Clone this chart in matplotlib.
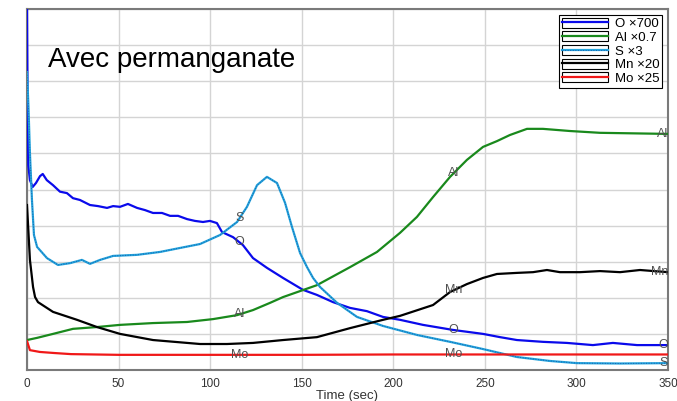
import numpy as np
import matplotlib
matplotlib.use('Agg')
import matplotlib.pyplot as plt
from matplotlib.lines import Line2D
from matplotlib.patches import Patch
from matplotlib.legend_handler import HandlerTuple

plt.rcParams['font.family'] = ['Liberation Sans', 'DejaVu Sans']

# valeurs (unités arbitraires, 10 divisions)
t_O = [0, 0.3, 0.7, 1.6, 3.1, 4.9, 7.1, 8.6, 10.8, 14.2, 18.0, 21.8, 25.1, 28.9, 34.4, 38.8,
       43.7, 47.0, 50.8, 55.1, 60.1, 64.4, 68.8, 73.7, 78.1, 82.5, 87.4, 91.7, 96.1, 99.9,
       103.7, 106.5, 112.5, 117.9, 123.4, 131.0, 139.8, 150.7, 158.3, 167.1, 176.4, 185.6,
       194.4, 203.7, 216.2, 232.6, 249.0, 258.3, 267.5, 281.7, 294.8, 309.0, 319.9, 333.1, 350]
v_O = [10.3, 7.48, 5.68, 5.26, 5.07, 5.18, 5.37, 5.43, 5.26, 5.12, 4.94, 4.90, 4.76, 4.71, 4.57, 4.54,
       4.49, 4.54, 4.52, 4.60, 4.49, 4.43, 4.35, 4.35, 4.27, 4.27, 4.18, 4.13, 4.10, 4.13,
       4.07, 3.82, 3.68, 3.46, 3.10, 2.83, 2.55, 2.22, 2.08, 1.88, 1.72, 1.63,
       1.47, 1.39, 1.25, 1.11, 1.00, 0.91, 0.83, 0.78, 0.75, 0.69, 0.75, 0.69, 0.69]

t_Al = [0, 5.5, 14.2, 25.1, 38.2, 50.8, 68.8, 87.4, 101.6, 114.7, 123.4, 132.7, 139.8, 158.3,
        176.4, 191.1, 203.7, 212.9, 221.7, 231.0, 240.2, 249.0, 256.6, 263.7, 273.0, 281.7,
        296.5, 312.9, 350]
v_Al = [0.83, 0.89, 1.00, 1.14, 1.19, 1.25, 1.30, 1.33, 1.41, 1.52, 1.66, 1.86, 2.02, 2.35,
        2.85, 3.27, 3.80, 4.24, 4.79, 5.35, 5.82, 6.18, 6.34, 6.51, 6.68, 6.68,
        6.62, 6.57, 6.54]

t_S = [0, 0.8, 1.6, 2.7, 3.8, 5.5, 10.9, 16.9, 23.5, 30.0, 34.4, 39.9, 47.0, 60.1, 72.6, 83.5,
       94.5, 105.4, 114.7, 120.1, 125.6, 131.0, 136.5, 140.9, 144.7, 149.1, 152.9, 156.2, 160.0,
       169.3, 180.2, 194.4, 213.0, 231.0, 249.0, 267.5, 285.6, 300.3, 323.8, 350]
v_S = [8.25, 7.29, 6.01, 4.71, 3.74, 3.41, 3.10, 2.91, 2.96, 3.05, 2.94, 3.05, 3.16, 3.19, 3.27, 3.38,
       3.49, 3.74, 4.10, 4.52, 5.12, 5.35, 5.18, 4.63, 3.96, 3.24, 2.85, 2.55, 2.30,
       1.86, 1.47, 1.22, 0.97, 0.78, 0.58, 0.36, 0.25, 0.19, 0.18, 0.19]

t_Mn = [0, 1.6, 3.3, 4.4, 6.0, 14.2, 27.3, 38.2, 50.8, 68.8, 94.5, 109.2, 123.4, 139.8, 158.3,
        176.4, 194.4, 203.7, 221.7, 231.0, 240.2, 249.0, 256.6, 267.5, 276.3, 283.9, 291.0,
        301.9, 312.9, 323.8, 334.7, 350]
v_Mn = [4.57, 3.05, 2.30, 2.02, 1.88, 1.61, 1.39, 1.19, 1.00, 0.83, 0.72, 0.72, 0.75, 0.83, 0.91,
        1.16, 1.39, 1.50, 1.80, 2.16, 2.38, 2.55, 2.66, 2.69, 2.71, 2.77, 2.71,
        2.71, 2.74, 2.71, 2.77, 2.71]

t_Mo = [0, 1.6, 7, 15, 24, 50, 100, 150, 200, 250, 300, 350]
v_Mo = [0.80, 0.55, 0.50, 0.47, 0.44, 0.42, 0.42, 0.42, 0.43, 0.43, 0.43, 0.43]

series = [
    ('O', 'O \u00d7700', t_O, v_O, '#0a0aeb'),
    ('Al', 'Al \u00d70.7', t_Al, v_Al, '#19891c'),
    ('S', 'S \u00d73', t_S, v_S, '#22a4dc'),
    ('Mn', 'Mn \u00d720', t_Mn, v_Mn, '#000000'),
    ('Mo', 'Mo \u00d725', t_Mo, v_Mo, '#f01818'),
]

# étiquettes posées sur les courbes
labels_mid1 = ['S', 'O', 'Al', 'Mo']
labels_mid2 = ['Al', 'Mn', 'O', 'Mo']
labels_end = ['Al', 'Mn', 'O', 'S']
t_mid1 = 116
t_mid2 = 233

fig = plt.figure(figsize=(6.77, 4.01), dpi=100)
ax = fig.add_axes([27/677, 31/401, 641/677, 361/401])

handles = []
curves = {}
for name, lab, t, v, c in series:
    ax.plot(t, v, color=c, lw=1.6, zorder=3)
    h = [Patch(facecolor='white', edgecolor='black', lw=0.8),
         Line2D([], [], color=c, lw=1.6)]
    if name == 'S':
        # la courbe S a un aspect pointillé
        ax.plot(t, v, color='#1a5fb0', lw=0.7, ls=':', zorder=3)
        h.append(Line2D([], [], color='#1a5fb0', lw=0.7, ls=':'))
    curves[name] = (t, v)
    handles.append(tuple(h))

lab_color = '#505050'
for name in labels_mid1:
    t, v = curves[name]
    ax.text(t_mid1, np.interp(t_mid1, t, v), name, ha='center', va='center',
            fontsize=9, color=lab_color, zorder=4)
for name in labels_mid2:
    t, v = curves[name]
    ax.text(t_mid2, np.interp(t_mid2, t, v), name, ha='center', va='center',
            fontsize=9, color=lab_color, zorder=4)
for name in labels_end:
    t, v = curves[name]
    ax.text(350, np.interp(350, t, v), name, ha='right', va='center',
            fontsize=9, color=lab_color, zorder=4, clip_on=False)

ax.set_xlim(0, 350)
ax.set_ylim(0, 10)
ax.set_xticks(np.arange(0, 351, 50))
ax.set_yticks(np.arange(0, 11, 1))
ax.set_yticklabels([])
ax.tick_params(axis='both', length=0, labelsize=8.5, colors='#333333', pad=6)
ax.grid(True, color='#d4d4d4', lw=1)
ax.set_axisbelow(True)
for s in ax.spines.values():
    s.set_color('#7a7a7a')
    s.set_linewidth(1.5)
ax.set_xlabel('Time (sec)', fontsize=9.5, color='#333333', labelpad=0)

ax.text(0.033, 0.86, 'Avec permanganate', transform=ax.transAxes, fontsize=20,
        ha='left', va='center', color='black')

leg = ax.legend(handles, [s[1] for s in series], loc='upper right',
                handler_map={tuple: HandlerTuple(ndivide=1, pad=0)},
                fontsize=9.5, frameon=True, fancybox=False, framealpha=1,
                edgecolor='black', borderaxespad=0.45, handlelength=3.5,
                handleheight=0.8, labelspacing=0.08, borderpad=0.2, handletextpad=0.5)
leg.get_frame().set_linewidth(0.8)

plt.savefig('out.png', dpi=100)
